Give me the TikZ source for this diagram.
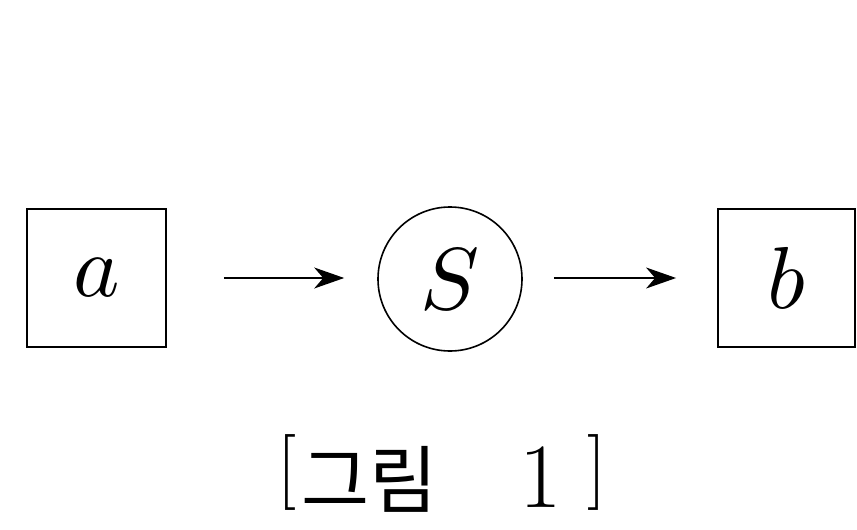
\documentclass[tikz,border=0pt]{standalone}
\usepackage{fontspec}
\DeclareFontShape{OML}{cmm}{m}{it}{<->cmmi10}{}
\newfontfamily\krfont{Noto Sans CJK KR}
\usetikzlibrary{arrows.meta}
\begin{document}
\begin{tikzpicture}[x=1pt,y=-1pt,
  boxnode/.style={draw,line width=1.8pt,rectangle,minimum width=139pt,minimum height=138pt,inner sep=0pt,font=\fontsize{88}{100}\selectfont},
  circnode/.style={draw,line width=1.6pt,circle,minimum size=144pt,inner sep=0pt,font=\fontsize{88}{100}\selectfont},
  flow/.style={line width=1.5pt,-{Stealth[length=30pt,width=21pt,inset=9pt]}},
  captext/.style={inner sep=0pt,anchor=base west}]
\useasboundingbox (0,0) rectangle (857,530);
\node[boxnode] (a) at (96.5,278) {$a$};
\node[circnode] (s) at (450,279) {$S$};
\node[boxnode,minimum width=137pt] (b) at (786.5,278) {$b$};
\draw[flow,shorten <=57pt,shorten >=33pt] (a.east) -- (a.east -| s.west);
\draw[flow,shorten <=31pt,shorten >=41pt] (s.east |- b.west) -- (b.west);
\node[captext] (cap) at (277,507) {\raisebox{16pt}{\fontsize{76}{90}\selectfont [}\hspace{5pt}{\krfont\fontsize{74}{90}\selectfont 그림}\hspace{82pt}{\fontsize{92}{100}\selectfont 1}\hspace{26pt}\raisebox{16pt}{\fontsize{76}{90}\selectfont ]}};
\end{tikzpicture}
\end{document}
